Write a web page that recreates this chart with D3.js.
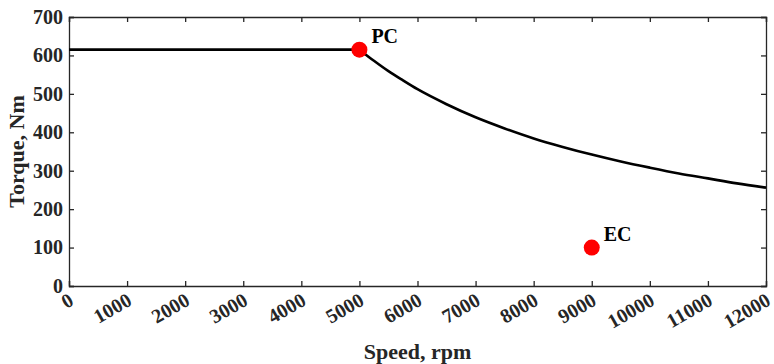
<!DOCTYPE html>
<html>
<head>
<meta charset="utf-8">
<script src="https://cdn.jsdelivr.net/npm/d3@7"></script>
<style>
  body { margin: 0; background: #fff; }
  svg text { font-family: "Liberation Serif", "Times New Roman", serif; font-weight: bold; }
</style>
</head>
<body>
<div id="chart"></div>
<script>
// torque-speed envelope
var flatSpeed = [0, 5000];
var flatTorque = [615, 615];
var fallSpeed = [5000, 5250, 5500, 5750, 6000, 6500, 7000, 7500, 8000, 8500, 9000, 9500, 10000, 10500, 11000, 11500, 12000];
var fallTorque = [615, 586, 559, 535, 512, 473, 439, 410, 384, 362, 342, 324, 308, 293, 280, 267, 256];

// operating points
var pointNames = ["PC", "EC"];
var pointSpeed = [5000, 9000];
var pointTorque = [615, 100];

var xTicks = [0, 1000, 2000, 3000, 4000, 5000, 6000, 7000, 8000, 9000, 10000, 11000, 12000];
var yTicks = [0, 100, 200, 300, 400, 500, 600, 700];

var width = 774, height = 364;
var margin = {top: 17, right: 8, bottom: 78, left: 69};

var svg = d3.select("#chart").append("svg")
    .attr("width", width)
    .attr("height", height);

var x = d3.scaleLinear().domain([0, 12000]).range([margin.left, width - margin.right]);
var y = d3.scaleLinear().domain([0, 700]).range([height - margin.bottom, margin.top]);

var axisColor = "#262626";

function styleAxis(g) {
    g.selectAll("path, line").attr("stroke", axisColor).attr("stroke-width", 1.3);
}

// box with inward ticks on all sides
svg.append("g")
    .attr("transform", "translate(0," + y(0) + ")")
    .call(d3.axisBottom(x).tickValues(xTicks).tickSize(-5).tickFormat(""))
    .call(styleAxis);

svg.append("g")
    .attr("transform", "translate(0," + y(700) + ")")
    .call(d3.axisTop(x).tickValues(xTicks).tickSize(-5).tickFormat(""))
    .call(styleAxis);

svg.append("g")
    .attr("transform", "translate(" + x(0) + ",0)")
    .call(d3.axisLeft(y).tickValues(yTicks).tickSize(-5).tickPadding(6))
    .call(styleAxis)
    .call(function(g) {
        g.selectAll("text").attr("font-size", 20).attr("fill", axisColor)
            .attr("font-family", "Liberation Serif").attr("font-weight", "bold");
    });

svg.append("g")
    .attr("transform", "translate(" + x(12000) + ",0)")
    .call(d3.axisRight(y).tickValues(yTicks).tickSize(-5).tickFormat(""))
    .call(styleAxis);

// rotated x tick labels
svg.append("g").selectAll("text")
    .data(xTicks)
    .enter().append("text")
    .attr("text-anchor", "end")
    .attr("font-size", 20)
    .attr("fill", axisColor)
    .attr("transform", function(d) { return "translate(" + (x(d) + 6) + "," + (y(0) + 18) + ") rotate(-30)"; })
    .text(function(d) { return d; });

// curve: flat part then constant-power part
var flatLine = d3.line()
    .x(function(d, i) { return x(flatSpeed[i]); })
    .y(function(d, i) { return y(flatTorque[i]); });

var fallLine = d3.line()
    .x(function(d, i) { return x(fallSpeed[i]); })
    .y(function(d, i) { return y(fallTorque[i]); })
    .curve(d3.curveMonotoneX);

svg.append("path")
    .datum(flatSpeed)
    .attr("d", flatLine)
    .attr("fill", "none")
    .attr("stroke", "#000")
    .attr("stroke-width", 2.6);

svg.append("path")
    .datum(fallSpeed)
    .attr("d", fallLine)
    .attr("fill", "none")
    .attr("stroke", "#000")
    .attr("stroke-width", 2.6);

// points
svg.append("g").selectAll("circle")
    .data(pointNames)
    .enter().append("circle")
    .attr("cx", function(d, i) { return x(pointSpeed[i]); })
    .attr("cy", function(d, i) { return y(pointTorque[i]); })
    .attr("r", 8)
    .attr("fill", "#ff0000");

svg.append("g").selectAll("text")
    .data(pointNames)
    .enter().append("text")
    .attr("x", function(d, i) { return x(pointSpeed[i]) + 12; })
    .attr("y", function(d, i) { return y(pointTorque[i]) - 7; })
    .attr("font-size", 20)
    .attr("fill", "#000")
    .text(function(d) { return d; });

// axis titles
svg.append("text")
    .attr("x", (x(0) + x(12000)) / 2)
    .attr("y", 359)
    .attr("text-anchor", "middle")
    .attr("font-size", 22)
    .attr("fill", axisColor)
    .text("Speed, rpm");

svg.append("text")
    .attr("transform", "translate(24," + ((y(0) + y(700)) / 2) + ") rotate(-90)")
    .attr("text-anchor", "middle")
    .attr("font-size", 22)
    .attr("fill", axisColor)
    .text("Torque, Nm");
</script>
</body>
</html>
